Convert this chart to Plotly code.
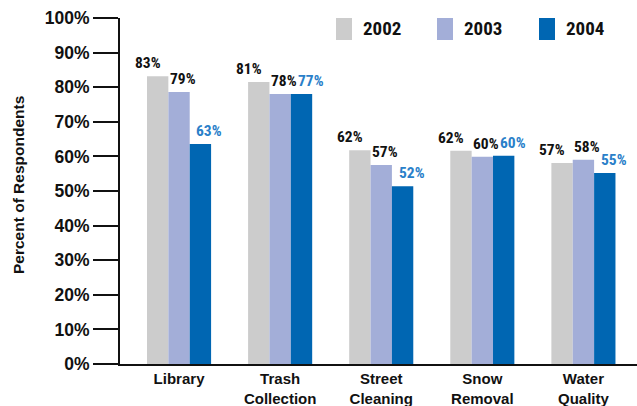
import plotly.graph_objects as go

categories = ["Library", "Trash<br>Collection", "Street<br>Cleaning", "Snow<br>Removal", "Water<br>Quality"]
years = ["2002", "2003", "2004"]
values_2002 = [83.2, 81.5, 61.8, 61.6, 58.1]
values_2003 = [78.6, 78.0, 57.5, 59.9, 59.0]
values_2004 = [63.6, 78.0, 51.4, 60.2, 55.2]
labels_2002 = ["83%", "81%", "62%", "62%", "57%"]
labels_2003 = ["79%", "78%", "57%", "60%", "58%"]
labels_2004 = ["63%", "77%", "52%", "60%", "55%"]
y_ticks = [0, 10, 20, 30, 40, 50, 60, 70, 80, 90, 100]
y_tick_labels = [f"{v}%" for v in y_ticks]

colors = ["#CCCCCC", "#A3AED8", "#0066B2"]
label_colors = ["#111111", "#111111", "#2A7FC9"]
series = [values_2002, values_2003, values_2004]
labels = [labels_2002, labels_2003, labels_2004]

W, H = 637, 406
L, R, T, B = 120, 0, 18, 42
pw, ph = W - L - R, H - T - B

def px(x):
    return (x - L) / pw

def py(y):
    return (H - B - y) / ph

xs = list(range(len(categories)))
fig = go.Figure()
for k, (yr, vals) in enumerate(zip(years, series)):
    fig.add_trace(go.Bar(x=xs, y=vals, name=yr, marker=dict(color=colors[k], line=dict(width=0)),
                         showlegend=False, hoverinfo="skip"))

bar_w = (1 - 0.366) / 3
xshifts = [-10, 4, 9]
narrow = "Roboto Condensed, Open Sans Condensed, sans-serif"
for k in range(3):
    for i in xs:
        fig.add_annotation(x=i + (k - 1) * bar_w, y=series[k][i], text=labels[k][i],
                           showarrow=False, yanchor="bottom", xanchor="center",
                           xshift=xshifts[k], yshift=2,
                           font=dict(family=narrow, size=15.5, color=label_colors[k], weight="bold"))

# legend
leg_x = [336, 437, 539]
for k in range(3):
    fig.add_shape(type="rect", xref="paper", yref="paper",
                  x0=px(leg_x[k]), x1=px(leg_x[k] + 16), y0=py(40), y1=py(18),
                  fillcolor=colors[k], line=dict(width=0))
    fig.add_annotation(xref="paper", yref="paper", x=px(leg_x[k] + 25), y=py(29),
                       text=years[k], showarrow=False, xanchor="left", yanchor="middle",
                       font=dict(family=narrow, size=19, color="#111111", weight="bold"))

# y-axis title
fig.add_annotation(xref="paper", yref="paper", x=px(19), y=py(185), text="Percent of Respondents",
                   textangle=-90, showarrow=False, xanchor="center", yanchor="middle",
                   font=dict(family="Liberation Sans, Arial, sans-serif", size=15.5, weight="bold",
                             color="#111111"))

fig.update_layout(
    width=W, height=H, margin=dict(l=L, r=R, t=T, b=B, pad=0, autoexpand=False),
    paper_bgcolor="white", plot_bgcolor="white",
    barmode="group", bargap=0.366, bargroupgap=0,
    font=dict(family="Liberation Sans, Arial, sans-serif", color="#111111"),
    xaxis=dict(range=[-0.584, 4.53], tickvals=xs, ticktext=categories, showgrid=False,
               zeroline=False, showline=True, linecolor="#111111", linewidth=2, ticks="",
               automargin=False,
               tickfont=dict(size=15, weight="bold", color="#111111")),
    yaxis=dict(range=[0, 100], tickvals=y_ticks, ticktext=y_tick_labels, showgrid=False,
               zeroline=False, showline=True, linecolor="#111111", linewidth=2,
               ticks="outside", ticklen=25, tickwidth=2, tickcolor="#111111", automargin=False,
               tickfont=dict(size=17.5, weight="bold", color="#111111")),
)
fig.write_html("out.html", config={"displayModeBar": False},
               post_script="document.body.style.margin='0';")
